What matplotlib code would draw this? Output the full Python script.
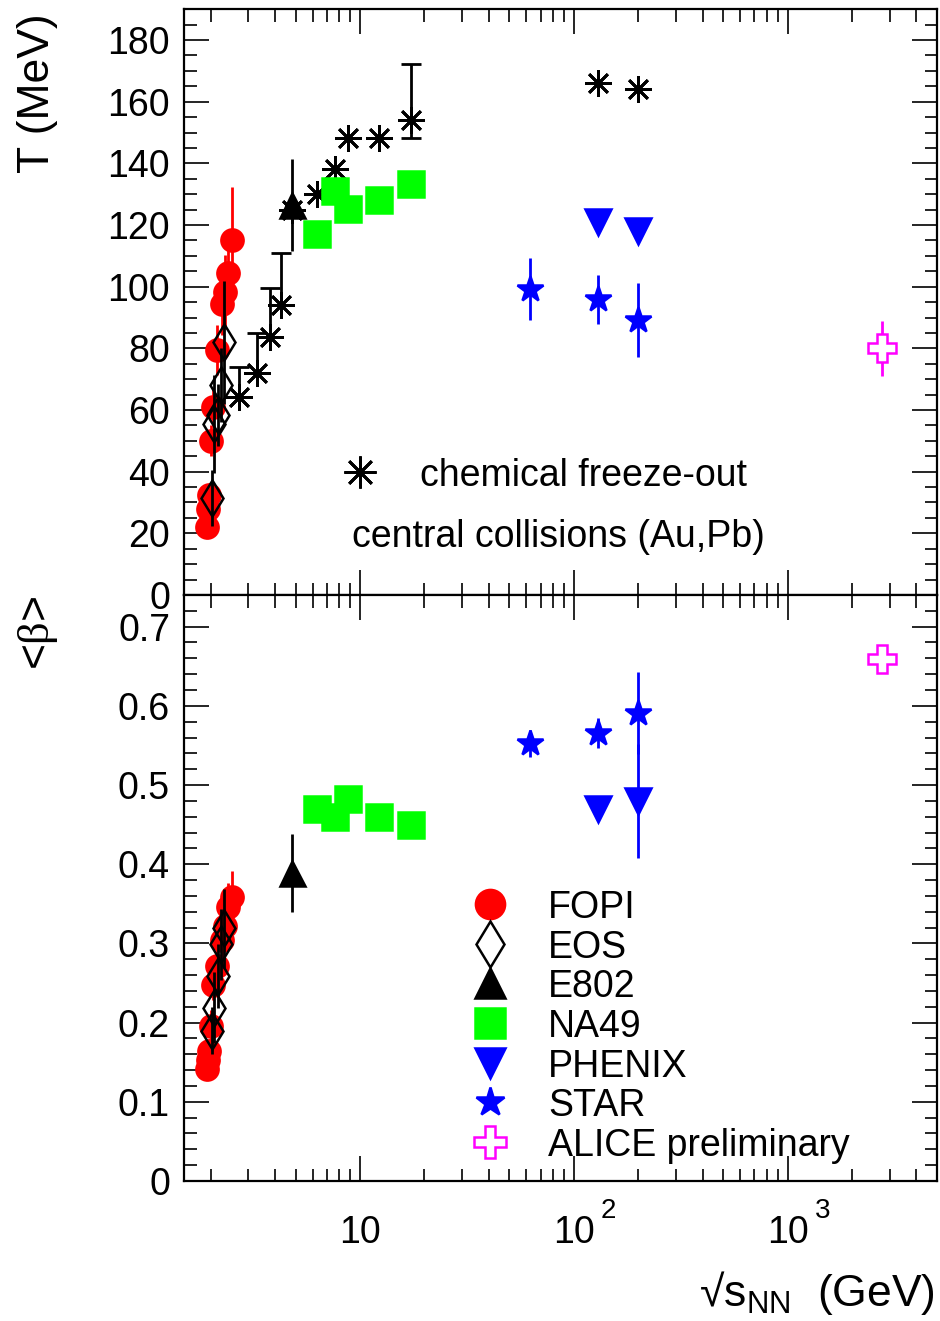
import matplotlib
matplotlib.use('Agg')
import matplotlib.pyplot as plt
from matplotlib.ticker import MultipleLocator, FixedLocator, LogLocator, NullFormatter, FuncFormatter

plt.rcParams['font.family'] = ['Liberation Sans', 'DejaVu Sans']
plt.rcParams['mathtext.fontset'] = 'custom'
plt.rcParams['mathtext.rm'] = 'Liberation Serif'
plt.rcParams['font.size'] = 27

# ---- datos ----
# FOPI
fopi_sqrts = [2.52, 2.42, 2.33, 2.25, 2.13, 2.06, 2.01, 1.96, 1.94, 1.92]
fopi_T = [115.2, 104.6, 98.2, 94.4, 79.5, 61.1, 50.1, 32.5, 27.8, 21.9]
fopi_T_err = [17, 12, 12, 10, 8, 6, 5, 3, 3, 3]
fopi_beta = [0.358, 0.346, 0.322, 0.304, 0.272, 0.248, 0.196, 0.164, 0.153, 0.142]
fopi_beta_err = [0.034, 0.03, 0.03, 0.025, 0.025, 0.02, 0.02, 0.015, 0.015, 0.015]

# EOS
eos_sqrts = [2.31, 2.23, 2.16, 2.07, 2.02]
eos_T = [82.0, 68.1, 58.4, 55.5, 31.4]
eos_T_err = [20, 12, 10, 16, 9]
eos_beta = [0.319, 0.299, 0.259, 0.219, 0.190]
eos_beta_err = [0.05, 0.045, 0.04, 0.045, 0.03]

# E802
e802_sqrts = [4.82]
e802_T = [126.5]
e802_T_err = [15]
e802_beta = [0.389]
e802_beta_err = [0.049]

# NA49
na49_sqrts = [6.3, 7.6, 8.8, 12.3, 17.3]
na49_T = [117.1, 131.1, 125.1, 128.1, 133.2]
na49_beta = [0.470, 0.460, 0.482, 0.460, 0.450]

# PHENIX
phenix_sqrts = [130, 200]
phenix_T = [121.0, 118.1]
phenix_beta = [0.470, 0.480]
phenix_beta_err = [0.0, 0.072]

# STAR
star_sqrts = [62.4, 130, 200]
star_T = [99.2, 95.9, 89.2]
star_T_err = [10, 8, 12]
star_beta = [0.553, 0.566, 0.591]
star_beta_err = [0.017, 0.019, 0.052]

# ALICE preliminar
alice_sqrts = [2760]
alice_T = [80.0]
alice_T_err = [9]
alice_beta = [0.659]

# freeze-out quimico
cfo_sqrts = [2.72, 3.31, 3.79, 4.26, 4.82, 6.27, 7.64, 8.82, 12.3, 17.3, 130, 200]
cfo_T = [64.1, 72.1, 83.8, 94.1, 125.0, 130.2, 138.2, 148.1, 148.1, 154.1, 166.0, 164.0]
cfo_T_lo = [0, 0, 0, 0, 0, 0, 0, 0, 0, 6, 0, 0]
cfo_T_hi = [10, 13, 15.7, 16.7, 0, 0, 0, 0, 0, 18, 0, 0]

legend_labels = ['FOPI', 'EOS', 'E802', 'NA49', 'PHENIX', 'STAR', 'ALICE preliminary']

RED, GREEN, BLUE, MAG = '#ff0000', '#00ff00', '#0000ff', '#ff00ff'
ASTER = (8, 2, 0)

# estilos: (color, marker, ms, mfc, ms_leyenda)
estilos = {
    'FOPI': (RED, 'o', 16, RED, 21),
    'EOS': ('black', 'd', 18, 'none', 23),
    'E802': ('black', '^', 18, 'black', 21),
    'NA49': (GREEN, 's', 19, GREEN, 21),
    'PHENIX': (BLUE, 'v', 19, BLUE, 21),
    'STAR': (BLUE, '*', 19, BLUE, 21),
    'ALICE preliminary': (MAG, 'P', 20, 'white', 23),
}


def dibujar(ax, nombre, x, y, err=None, z=3):
    c, m, ms, mfc, _ = estilos[nombre]
    ax.errorbar(x, y, yerr=err, fmt=m, color=c, ms=ms, mfc=mfc, mec=c,
                mew=1.8, elinewidth=2, capsize=0, zorder=z, clip_on=False)


def estilo_ejes(ax):
    ax.set_xscale('log')
    ax.set_xlim(1.5, 5000)
    ax.xaxis.set_major_locator(FixedLocator([10, 100, 1000]))
    ax.xaxis.set_minor_locator(LogLocator(base=10, subs=range(2, 10), numticks=20))
    ax.xaxis.set_minor_formatter(NullFormatter())
    ax.tick_params(which='both', direction='in', top=True, right=True, width=1.2)
    ax.tick_params(which='major', length=18)
    ax.tick_params(which='minor', length=9)
    ax.tick_params(axis='y', pad=10)
    for s in ax.spines.values():
        s.set_linewidth(1.6)


fig = plt.figure(figsize=(9.4, 13.21), dpi=100)
ax1 = fig.add_axes([0.1957, 0.5496, 0.8011, 0.4434])
ax2 = fig.add_axes([0.1957, 0.1060, 0.8011, 0.4436])

# ---- panel superior: T ----
estilo_ejes(ax1)
ax1.set_ylim(0, 190)
ax1.yaxis.set_major_locator(MultipleLocator(20))
ax1.yaxis.set_minor_locator(MultipleLocator(5))
ax1.yaxis.set_major_formatter(FuncFormatter(lambda v, p: f'{v:g}' if v <= 180 else ''))
ax1.tick_params(axis='x', labelbottom=False)

ax1.errorbar(cfo_sqrts, cfo_T, yerr=[cfo_T_lo, cfo_T_hi], fmt='none', ecolor='black',
             elinewidth=2, capsize=7, capthick=2, zorder=2)
ax1.plot(cfo_sqrts, cfo_T, ls='none', marker=ASTER, ms=19, mec='black', mew=2, zorder=2)
dibujar(ax1, 'FOPI', fopi_sqrts, fopi_T, fopi_T_err)
dibujar(ax1, 'EOS', eos_sqrts, eos_T, eos_T_err, z=4)
dibujar(ax1, 'E802', e802_sqrts, e802_T, e802_T_err)
dibujar(ax1, 'NA49', na49_sqrts, na49_T)
dibujar(ax1, 'PHENIX', phenix_sqrts, phenix_T)
dibujar(ax1, 'STAR', star_sqrts, star_T, star_T_err)
dibujar(ax1, 'ALICE preliminary', alice_sqrts, alice_T, alice_T_err)

ax1.plot([0.2337], [0.210], transform=ax1.transAxes, marker=ASTER, ms=23,
         mec='black', mew=2, ls='none')
ax1.text(0.3134, 0.210, 'chemical freeze-out', transform=ax1.transAxes,
         ha='left', va='center_baseline')
ax1.text(0.2231, 0.1059, 'central collisions (Au,Pb)', transform=ax1.transAxes,
         ha='left', va='center_baseline')

# ---- panel inferior: <beta> ----
estilo_ejes(ax2)
ax2.set_ylim(0, 0.74)
ax2.yaxis.set_major_locator(MultipleLocator(0.1))
ax2.yaxis.set_minor_locator(MultipleLocator(0.02))
ax2.yaxis.set_major_formatter(FuncFormatter(lambda v, p: f'{v:.1f}'.rstrip('0').rstrip('.') if v > 1e-6 else '0'))
ax2.set_xticklabels(['10', '10', '10'])
plt.setp(ax2.get_xticklabels(), va='baseline')
ax2.tick_params(axis='x', which='major', pad=44.6)
for e in (2, 3):
    ax2.annotate(str(e), xy=(10 ** e, 0), xycoords=('data', 'axes fraction'),
                 xytext=(19.4, -27), textcoords='offset points',
                 ha='left', va='baseline', fontsize=20, annotation_clip=False)

dibujar(ax2, 'FOPI', fopi_sqrts, fopi_beta, fopi_beta_err)
dibujar(ax2, 'EOS', eos_sqrts, eos_beta, eos_beta_err, z=4)
dibujar(ax2, 'E802', e802_sqrts, e802_beta, e802_beta_err)
dibujar(ax2, 'NA49', na49_sqrts, na49_beta)
dibujar(ax2, 'PHENIX', phenix_sqrts, phenix_beta, phenix_beta_err)
dibujar(ax2, 'STAR', star_sqrts, star_beta, star_beta_err)
dibujar(ax2, 'ALICE preliminary', alice_sqrts, alice_beta)

for ax in (ax1, ax2):
    plt.setp(ax.get_yticklabels(), va='center_baseline')

# leyenda dibujada a mano (solo marcadores)
for i, nombre in enumerate(legend_labels):
    c, m, ms, mfc, msl = estilos[nombre]
    y = 0.4727 - i * 0.0677
    ax2.plot([0.4064], [y], transform=ax2.transAxes, ls='none', marker=m, ms=msl,
             mfc=mfc, mec=c, mew=1.8, clip_on=False)
    ax2.text(0.4834, y, nombre, transform=ax2.transAxes, ha='left', va='center_baseline')

# titulos de ejes
fig.text(0.040, 0.990, 'T (MeV)', rotation=90, ha='center', va='top', fontsize=32)
fig.text(0.040, 0.549, r'<$\mathrm{\beta}$>', rotation=90, ha='center', va='top', fontsize=32)
fig.text(0.995, 0.0110, r'√$\mathregular{s_{NN}}$  (GeV)', ha='right', va='baseline', fontsize=32)

fig.savefig('out.png', dpi=100)
